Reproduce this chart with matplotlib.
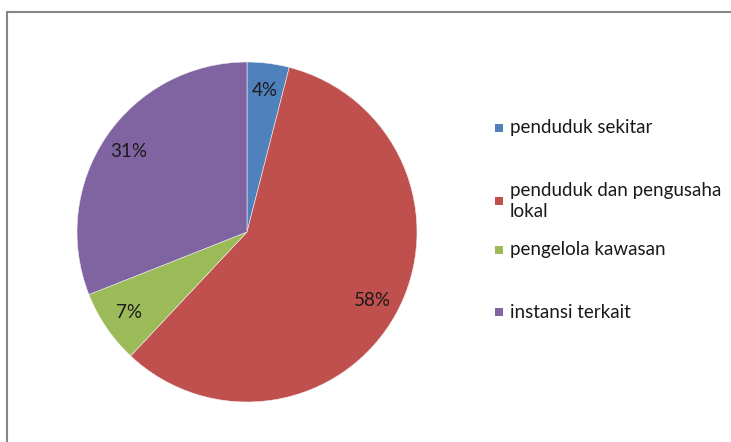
import matplotlib
matplotlib.use("Agg")
import matplotlib.pyplot as plt
from matplotlib.patches import Rectangle

categories = ["penduduk sekitar", "penduduk dan pengusaha\nlokal",
              "pengelola kawasan", "instansi terkait"]
shares = [4, 58, 7, 31]
colors = ["#4F81BD", "#C0504D", "#9BBB59", "#8064A2"]

W, H = 731, 442
fig = plt.figure(figsize=(W / 100, H / 100), dpi=100)
plt.rcParams["font.family"] = ["Lato", "DejaVu Sans"]

# chart-area frame (runs off the right and bottom edges)
fig.patches.append(Rectangle((7 / W, -0.1), 1.2, 1.1 - 12 / H,
                             transform=fig.transFigure, fill=False,
                             edgecolor="#868686", linewidth=1.5))

cx, cy, r = 247, 232, 170
ax = fig.add_axes([(cx - r) / W, (H - cy - r) / H, 2 * r / W, 2 * r / H])
wedges, texts, autotexts = ax.pie(
    shares, colors=colors, startangle=90, counterclock=False,
    autopct=lambda p: f"{p:.0f}%", pctdistance=0.84,
    wedgeprops=dict(edgecolor="#f0f0f0", linewidth=0.4),
    textprops=dict(fontsize=13.5, color="#1a1a1a"))
ax.set_xlim(-1, 1)
ax.set_ylim(-1, 1)
ax.set_aspect("equal")
ax.axis("off")

# legend entries
rows_y = [128, 201, 250, 312]
for label, col, y in zip(categories, colors, rows_y):
    fig.patches.append(Rectangle((495 / W, (H - y - 4) / H), 8 / W, 8 / H,
                                 transform=fig.transFigure, facecolor=col,
                                 edgecolor="none"))
    fig.text(510 / W, (H - y) / H, label, fontsize=13.5, color="#1a1a1a",
             va="center", ha="left", linespacing=1.35)

fig.savefig("out.png", dpi=100)
